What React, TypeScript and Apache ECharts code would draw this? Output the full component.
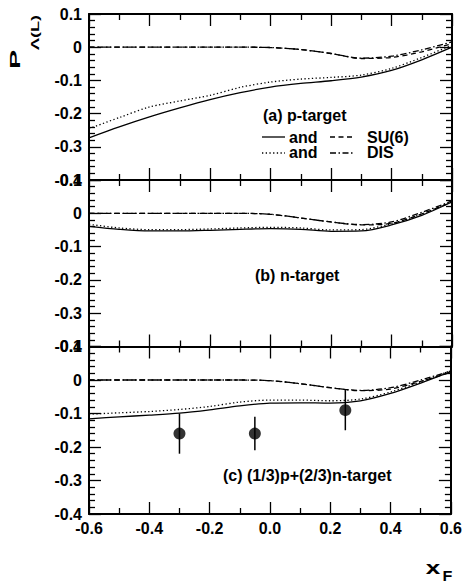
import React, { useEffect, useRef } from "react";
import * as echarts from "echarts";

// x_F sample positions of the model curves
const xs = [-0.6, -0.5, -0.4, -0.3, -0.2, -0.1, 0, 0.1, 0.2, 0.3, 0.4, 0.5, 0.6];

// (a) p-target
const solidA = [-0.273, -0.240, -0.210, -0.183, -0.158, -0.137, -0.120, -0.109, -0.101, -0.090, -0.070, -0.038, 0.000];
const dotA = [-0.245, -0.212, -0.180, -0.162, -0.145, -0.121, -0.105, -0.096, -0.091, -0.084, -0.064, -0.031, 0.006];
const dashA = [0, 0, 0, 0, 0, 0, -0.001, -0.007, -0.019, -0.034, -0.031, -0.014, 0.011];
const dashDotA = [0, 0, 0, 0, 0, 0, -0.001, -0.007, -0.019, -0.033, -0.027, -0.008, 0.016];

// (b) n-target
const solidB = [-0.039, -0.048, -0.053, -0.053, -0.051, -0.048, -0.046, -0.048, -0.054, -0.053, -0.035, -0.006, 0.034];
const dotB = [-0.033, -0.044, -0.049, -0.049, -0.047, -0.044, -0.042, -0.044, -0.050, -0.049, -0.031, -0.002, 0.036];
const dashB = [0, 0, 0, 0, 0, 0, -0.003, -0.014, -0.026, -0.035, -0.030, -0.002, 0.034];
const dashDotB = [0, 0, 0, 0, 0, 0, -0.003, -0.014, -0.026, -0.034, -0.026, 0.003, 0.037];

// (c) (1/3)p+(2/3)n-target
const solidC = [-0.116, -0.110, -0.105, -0.099, -0.089, -0.077, -0.069, -0.068, -0.069, -0.062, -0.040, -0.009, 0.025];
const dotC = [-0.102, -0.098, -0.094, -0.088, -0.079, -0.066, -0.060, -0.060, -0.062, -0.057, -0.036, -0.005, 0.028];
const dashC = [0, 0, 0, 0, 0, 0, -0.002, -0.011, -0.023, -0.032, -0.027, -0.004, 0.023];
const dashDotC = [0, 0, 0, 0, 0, 0, -0.002, -0.011, -0.023, -0.031, -0.023, 0.000, 0.027];

// experimental points (panel c)
const expX = [-0.3, -0.05, 0.25];
const expY = [-0.16, -0.16, -0.09];
const expErr = [0.06, 0.05, 0.06];

const panelLabels = ["(a) p-target", "(b) n-target", "(c) (1/3)p+(2/3)n-target"];

const FONT = "'Liberation Sans', Arial, Helvetica, sans-serif";

const pair = (ys: number[]) => xs.map((x, i) => [x, ys[i]]);

export default function App() {
  const ref = useRef<HTMLDivElement>(null);

  useEffect(() => {
    if (!ref.current) return;
    const chart = echarts.init(ref.current, undefined, { renderer: "svg" });

    const gridTops = [14, 180, 346.5];
    const gridHeights = [166, 166.5, 167.5];
    const grids = gridTops.map((t, i) => ({
      left: 89,
      width: 363,
      top: t,
      height: gridHeights[i],
    }));

    const lineCol = "#000";
    const tickStyle = { color: lineCol, width: 1.3 };
    const xAxes: any[] = [];
    const yAxes: any[] = [];
    for (let i = 0; i < 3; i++) {
      for (const pos of ["bottom", "top"]) {
        xAxes.push({
          gridIndex: i,
          type: "value",
          position: pos,
          min: -0.6,
          max: 0.6,
          interval: 0.2,
          axisLine: { show: true, onZero: false, lineStyle: { color: lineCol, width: 2 } },
          axisTick: { show: true, inside: true, length: 12, lineStyle: tickStyle },
          minorTick: { show: true, splitNumber: 2, length: 6, lineStyle: tickStyle },
          splitLine: { show: false },
          minorSplitLine: { show: false },
          axisLabel:
            i === 2 && pos === "bottom"
              ? {
                  show: true,
                  margin: 6,
                  color: "#000",
                  fontSize: 16,
                  fontWeight: "bold",
                  fontFamily: FONT,
                  formatter: (v: number) => v.toFixed(1),
                }
              : { show: false },
        });
      }
      for (const pos of ["left", "right"]) {
        yAxes.push({
          gridIndex: i,
          type: "value",
          position: pos,
          min: -0.4,
          max: 0.1,
          interval: 0.1,
          axisLine: { show: true, onZero: false, lineStyle: { color: lineCol, width: 2 } },
          axisTick: { show: true, inside: true, length: 12, lineStyle: tickStyle },
          minorTick: { show: true, splitNumber: 5, length: 6, lineStyle: tickStyle },
          splitLine: { show: false },
          minorSplitLine: { show: false },
          axisLabel:
            pos === "left"
              ? {
                  show: true,
                  margin: 7,
                  color: "#000",
                  fontSize: 16,
                  fontWeight: "bold",
                  fontFamily: FONT,
                  formatter: (v: number) => (Math.abs(v) < 1e-9 ? "0" : v.toFixed(1)),
                }
              : { show: false },
        });
      }
    }

    const styles: Record<string, any> = {
      solid: "solid",
      dot: [1.3, 2.4],
      dash: [5, 3.5],
      dashdot: [6, 2.5, 1.5, 2.5],
    };
    const panels = [
      { solid: solidA, dot: dotA, dash: dashA, dashdot: dashDotA },
      { solid: solidB, dot: dotB, dash: dashB, dashdot: dashDotB },
      { solid: solidC, dot: dotC, dash: dashC, dashdot: dashDotC },
    ];
    const series: any[] = [];
    panels.forEach((p: any, i) => {
      for (const key of ["dashdot", "dash", "dot", "solid"]) {
        series.push({
          type: "line",
          xAxisIndex: 2 * i,
          yAxisIndex: 2 * i,
          data: pair(p[key]),
          smooth: 0.3,
          showSymbol: false,
          symbol: "none",
          silent: true,
          lineStyle: { color: "#000", width: 1.3, type: styles[key] },
        });
      }
    });

    const errData = expX.map((x, i) => [x, expY[i] - expErr[i], expY[i] + expErr[i]]);
    series.push({
      type: "custom",
      xAxisIndex: 4,
      yAxisIndex: 4,
      data: errData,
      encode: { x: 0, y: [1, 2] },
      renderItem: (params: any, api: any) => {
        const x = api.value(0);
        const lo = api.coord([x, api.value(1)]);
        const hi = api.coord([x, api.value(2)]);
        return {
          type: "line",
          shape: { x1: lo[0], y1: lo[1], x2: hi[0], y2: hi[1] },
          style: { stroke: "#000", lineWidth: 1.5 },
        };
      },
      z: 3,
    });
    series.push({
      type: "scatter",
      xAxisIndex: 4,
      yAxisIndex: 4,
      data: expX.map((x, i) => [x, expY[i]]),
      symbol: "circle",
      symbolSize: 12,
      itemStyle: { color: "#000" },
      z: 4,
    });

    const txt = (text: string, x: number, y: number, size = 16, extra: any = {}) => ({
      type: "text",
      x,
      y,
      silent: true,
      ...extra,
      style: {
        text,
        fill: "#000",
        font: `bold ${size}px ${FONT}`,
        align: extra.align || "left",
        verticalAlign: "middle",
      },
    });
    const seg = (x1: number, x2: number, y: number, dash: any) => ({
      type: "line",
      silent: true,
      shape: { x1, y1: y, x2, y2: y },
      style: { stroke: "#000", lineWidth: 1.3, lineDash: dash === "solid" ? null : dash },
    });

    const graphic: any[] = [
      txt(panelLabels[0], 263, 115),
      seg(262, 285, 137, styles.solid),
      txt("and", 289, 137),
      seg(330, 353, 137, styles.dash),
      txt("SU(6)", 367, 137),
      seg(262, 285, 153, styles.dot),
      txt("and", 289, 152),
      seg(330, 353, 153, styles.dashdot),
      txt("DIS", 367, 152),
      txt(panelLabels[1], 255, 275),
      txt(panelLabels[2], 223, 475),
      // y-axis title P_Λ(L)
      txt("P", 14.8, 59.5, 24, { rotation: Math.PI / 2, scaleX: 1.2, scaleY: 0.62, align: "center" }),
      txt("\u039B(L)", 34.5, 32.5, 18, { rotation: Math.PI / 2, scaleX: 1.0, scaleY: 0.65, align: "center" }),
      // x-axis title x_F
      txt("x", 433, 567.8, 18, { scaleX: 1.45, align: "center" }),
      txt("F", 447.5, 575.7, 14, { scaleX: 1.15, align: "center" }),
    ];

    chart.setOption({
      animation: false,
      backgroundColor: "#fff",
      textStyle: { fontFamily: FONT },
      grid: grids,
      xAxis: xAxes,
      yAxis: yAxes,
      series,
      graphic,
    });

    return () => chart.dispose();
  }, []);

  return (
    <div
      ref={ref}
      style={{ position: "fixed", left: 0, top: 0, width: 465, height: 581, background: "#fff" }}
    />
  );
}
